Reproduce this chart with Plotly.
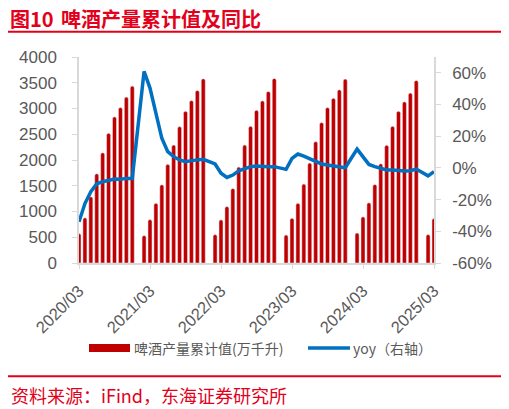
import plotly.graph_objects as go

# monthly categories 2020/03 .. 2025/03 (Jan is merged into Feb in the source data)
months = []
for y in range(2020, 2026):
    for m in range(1, 13):
        if (y == 2020 and m < 3) or (y == 2025 and m > 3):
            continue
        months.append(f"{y}/{m:02d}")

tick_labels = ["2020/03", "2021/03", "2022/03", "2023/03", "2024/03", "2025/03"]
yoy_ticks = [-60, -40, -20, 0, 20, 40, 60]

# cumulative beer output (万千升); 2020 from Mar, other years from Feb
prod_2020 = [571, 877, 1286, 1734, 2143, 2519, 2838, 3019, 3221, 3435]
prod_2021 = [532, 844, 1162, 1519, 1916, 2292, 2649, 2948, 3156, 3351, 3578]
prod_2022 = [552, 838, 1097, 1448, 1864, 2292, 2656, 2968, 3149, 3331, 3584]
prod_2023 = [545, 870, 1162, 1532, 1942, 2357, 2727, 3019, 3201, 3364, 3571]
prod_2024 = [584, 896, 1169, 1526, 1929, 2286, 2656, 2948, 3130, 3299, 3545]
prod_2025 = [552, 864]

# yoy (%)
yoy_2020 = [-34, -22.5, -15, -10, -8.7, -8, -7, -7.2, -6.6, -6.6]
yoy_2021 = [60.9, 50.4, 34.5, 18.7, 10.3, 7.1, 5, 3.9, 4.6, 5, 5.4]
yoy_2022 = [2.5, -3.4, -6, -4.5, -1.8, -0.3, 0.8, 1.2, 0.8, 0.8, 0.8]
yoy_2023 = [-0.9, 6, 8.8, 7.5, 6, 4, 2.5, 1.8, 1.4, 0.8, 0.1]
yoy_2024 = [11.9, 6.7, 2.2, 0.8, -0.3, -1.3, -1.3, -1.8, -2, -1.8, -0.7]
yoy_2025 = [-5, -2.4]


def join_years(*years):
    out = list(years[0])
    for yr in years[1:]:
        out += [None] + list(yr)  # January has no value
    return out


prod = join_years(prod_2020, prod_2021, prod_2022, prod_2023, prod_2024, prod_2025)
yoy = join_years(yoy_2020, yoy_2021, yoy_2022, yoy_2023, yoy_2024, yoy_2025)

# the page body adds an 8px margin, so the figure is drawn 8px in from the window corner
OFF = 8
W, H = 509 - OFF, 409 - OFF
ML, MT = 79 - OFF, 57 - OFF
MR, MB = 75, 146
PW, PH = W - ML - MR, H - MT - MB


def px_x(px):
    return (px - OFF - ML) / PW


def px_y(py):
    return (H - MB - (py - OFF)) / PH


RED = "#E3001B"
BAR = "#C00000"
BLUE = "#0070C0"
GREY = "#595959"
AXIS = "#D9D9D9"
FONT = "Liberation Sans, 'Noto Sans CJK SC', sans-serif"
CJK = "'Noto Sans CJK SC', sans-serif"

fig = go.Figure()
fig.add_trace(go.Bar(x=months, y=prod, marker=dict(color=BAR, cornerradius=2),
                     showlegend=False, name="啤酒产量累计值(万千升)"))
fig.add_trace(go.Scatter(x=months, y=yoy, yaxis="y2", mode="lines", connectgaps=True,
                         line=dict(color=BLUE, width=3.5), showlegend=False, name="yoy（右轴）"))

fig.update_layout(
    width=W, height=H,
    margin=dict(l=ML, r=MR, t=MT, b=MB, autoexpand=False),
    paper_bgcolor="white", plot_bgcolor="white",
    font=dict(family=FONT, color=GREY, size=16.5),
    bargap=0.32,
    showlegend=False,
    xaxis=dict(type="category", categoryorder="array", categoryarray=months,
               range=[0, len(months) - 1], tickmode="array", tickvals=tick_labels,
               ticktext=tick_labels, tickangle=-45, showgrid=False, showline=True,
               linecolor=AXIS, linewidth=1.5, ticks="outside", ticklen=4, tickcolor=AXIS,
               tickfont=dict(size=16.5, color=GREY), ticklabelstandoff=6),
    yaxis=dict(range=[0, 4000], dtick=500, showgrid=False, showline=True, linecolor=AXIS,
               linewidth=1.5, ticks="outside", ticklen=5, tickcolor=AXIS, zeroline=False,
               tickfont=dict(size=17, color=GREY), ticklabelstandoff=12),
    yaxis2=dict(overlaying="y", side="right", range=[-60, 70], tickmode="array",
                tickvals=yoy_ticks, ticktext=[f"{v}%" for v in yoy_ticks],
                showgrid=False, showline=True, linecolor=AXIS, linewidth=1.5,
                ticks="outside", ticklen=5, tickcolor=AXIS, zeroline=False,
                tickfont=dict(size=17, color=GREY), ticklabelstandoff=8),
)

# hand-drawn legend
fig.add_shape(type="rect", xref="paper", yref="paper", x0=px_x(89), x1=px_x(130),
              y0=px_y(352), y1=px_y(344), line=dict(width=0), fillcolor=BAR)
fig.add_annotation(text="啤酒产量累计值(万千升)", x=px_x(132), y=px_y(348), xref="paper",
                   yref="paper", xanchor="left", yanchor="middle", showarrow=False,
                   font=dict(family=CJK, size=14, color=GREY))
fig.add_shape(type="line", xref="paper", yref="paper", x0=px_x(308), x1=px_x(350),
              y0=px_y(348), y1=px_y(348), line=dict(color=BLUE, width=3.5))
fig.add_annotation(text="yoy（右轴）", x=px_x(351), y=px_y(348), xref="paper",
                   yref="paper", xanchor="left", yanchor="middle", showarrow=False,
                   font=dict(family=CJK, size=14, color=GREY))

fig.add_annotation(text="<b>图10</b>", x=px_x(8.5), y=px_y(18), xref="paper", yref="paper",
                   xanchor="left", yanchor="middle", showarrow=False, borderpad=0,
                   font=dict(family=CJK, size=20, color=RED))
fig.add_annotation(text="<b>啤酒产量累计值及同比</b>", x=px_x(60), y=px_y(18), xref="paper",
                   yref="paper", xanchor="left", yanchor="middle", showarrow=False, borderpad=0,
                   font=dict(family=CJK, size=20, color=RED))
fig.add_annotation(text="资料来源：iFind，东海证券研究所", x=px_x(8.5), y=px_y(395), xref="paper",
                   yref="paper", xanchor="left", yanchor="middle", showarrow=False,
                   font=dict(family=CJK, size=18, color=RED))
for yy in (31.8, 376.2):
    fig.add_shape(type="line", xref="paper", yref="paper", x0=px_x(8), x1=px_x(501),
                  y0=px_y(yy), y1=px_y(yy), line=dict(color=RED, width=2))

fig.write_html("out.html")
